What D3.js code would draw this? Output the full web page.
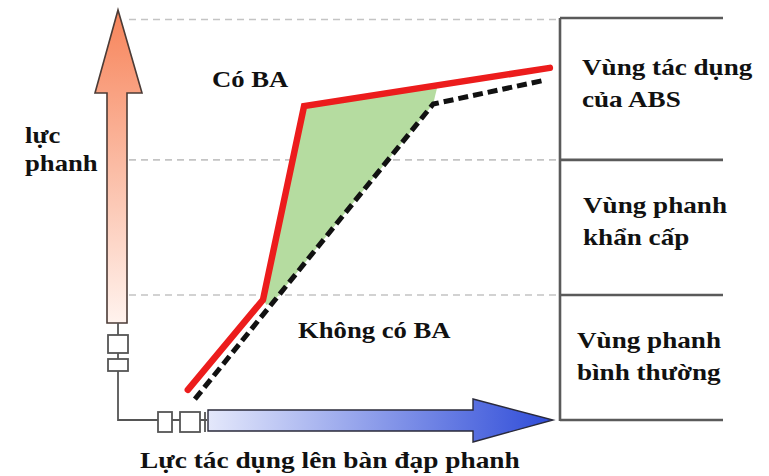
<!DOCTYPE html>
<html>
<head>
<meta charset="utf-8">
<script src="https://cdn.jsdelivr.net/npm/d3@7"></script>
<style>
  html, body { margin: 0; padding: 0; background: #ffffff; }
  svg { display: block; }
  text { font-family: "Liberation Serif", "Times New Roman", serif; font-weight: bold; fill: #111; font-size: 23px; }
</style>
</head>
<body>
<svg id="chart" width="769" height="476"></svg>
<script>
// Brake force (y, 0–100) against pedal force (x, 0–100)
const withBA    = [[15.8, 7.5], [32.8, 29.9], [42.1, 78.1], [97.7, 87.6]];
const withoutBA = [[17.4, 5.2], [71.3, 78.6], [96.8, 84.6]];
// Extra brake force gained by BA (region between the two curves)
const gainArea  = [[33.6, 28.6], [32.8, 29.9], [42.1, 78.1], [72.4, 83.6], [71.3, 78.6], [35.5, 29.9]];

// Zone boundaries on the brake-force axis
const zoneBounds = [0, 31.1, 64.7, 100];
const zoneLabels = [
  ["Vùng phanh", "bình thường"],
  ["Vùng phanh", "khẩn cấp"],
  ["Vùng tác dụng", "của ABS"]
];
const curveLabels = { on: "Có BA", off: "Không có BA" };
const yAxisLabel = ["lực", "phanh"];
const xAxisLabel = "Lực tác dụng lên bàn đạp phanh";

const svg = d3.select("#chart");

const x = d3.scaleLinear().domain([0, 100]).range([118, 560]);
const y = d3.scaleLinear().domain([0, 100]).range([420, 18]);

const defs = svg.append("defs");
const gUp = defs.append("linearGradient").attr("id", "gradUp")
  .attr("x1", 0).attr("y1", 1).attr("x2", 0).attr("y2", 0);
gUp.append("stop").attr("offset", "0%").attr("stop-color", "#fff3ee");
gUp.append("stop").attr("offset", "100%").attr("stop-color", "#f7845a");
const gRight = defs.append("linearGradient").attr("id", "gradRight")
  .attr("x1", 0).attr("y1", 0).attr("x2", 1).attr("y2", 0);
gRight.append("stop").attr("offset", "0%").attr("stop-color", "#e4e8fb");
gRight.append("stop").attr("offset", "100%").attr("stop-color", "#2f4cd8");

// Dashed grid lines at the zone boundaries
svg.append("g").selectAll("line")
  .data(zoneBounds.slice(1))
  .join("line")
  .attr("x1", 129).attr("x2", x(100))
  .attr("y1", d => y(d) + (d === 100 ? 1.5 : 0))
  .attr("y2", d => y(d) + (d === 100 ? 1.5 : 0))
  .attr("stroke", "#c4c4c4").attr("stroke-width", 1.6)
  .attr("stroke-dasharray", "7,5");

// Zone table on the right
const zoneG = svg.append("g");
zoneG.append("line")
  .attr("x1", x(100)).attr("x2", x(100))
  .attr("y1", y(100)).attr("y2", y(0) + 1)
  .attr("stroke", "#5a5a5a").attr("stroke-width", 2.6);
zoneG.selectAll("line.row")
  .data(zoneBounds)
  .join("line").attr("class", "row")
  .attr("x1", x(100)).attr("x2", 723)
  .attr("y1", d => y(d)).attr("y2", d => y(d))
  .attr("stroke", "#5a5a5a").attr("stroke-width", 2.6);

const zoneTextPos = [[577, 348], [583, 213], [582, 75]];
zoneLabels.forEach((lines, i) => {
  lines.forEach((t, j) => {
    svg.append("text")
      .attr("transform", `translate(${zoneTextPos[i][0]},${zoneTextPos[i][1] + j * 32}) scale(1.18,1)`)
      .text(t);
  });
});

// Vertical axis arrow (brake force)
const ax = x(0);
const vArrow = [[ax - 11, 323], [ax - 11, 93], [ax - 23, 93], [ax, 10], [ax + 24, 93], [ax + 9, 93], [ax + 9, 323]];
svg.append("path")
  .attr("d", d3.line()(vArrow) + "Z")
  .attr("fill", "url(#gradUp)").attr("stroke", "#4b3b36").attr("stroke-width", 1.6);

// Linkage below the vertical arrow
const link = svg.append("g").attr("stroke", "#555").attr("fill", "#fff").attr("stroke-width", 1.8);
link.append("path").attr("fill", "none")
  .attr("d", `M${ax},323 V335 M${ax},353 V359 M${ax},371 V${y(0)} H158 M172,${y(0)} H180 M200,${y(0)} H207`);
link.append("rect").attr("x", ax - 10).attr("y", 335).attr("width", 20).attr("height", 18);
link.append("rect").attr("x", ax - 10).attr("y", 359).attr("width", 20).attr("height", 12);
link.append("rect").attr("x", 158).attr("y", 412).attr("width", 14).attr("height", 20);
link.append("rect").attr("x", 180).attr("y", 412).attr("width", 20).attr("height", 20);
link.append("line").attr("x1", 205).attr("x2", 205).attr("y1", 412).attr("y2", 432);

// Horizontal axis arrow (pedal force)
const ay = y(0);
const hArrow = [[208, ay - 10], [473, ay - 10], [473, ay - 21], [553, ay], [473, ay + 22], [473, ay + 11], [208, ay + 11]];
svg.append("path")
  .attr("d", d3.line()(hArrow) + "Z")
  .attr("fill", "url(#gradRight)").attr("stroke", "#2a2a3a").attr("stroke-width", 1.4);

// Gain area between the curves
svg.append("path")
  .attr("d", d3.line().x(d => x(d[0])).y(d => y(d[1]))(gainArea) + "Z")
  .attr("fill", "#b5dca0").attr("stroke", "none");

const line = d3.line().x(d => x(d[0])).y(d => y(d[1]));

svg.append("path")
  .attr("d", line(withoutBA))
  .attr("fill", "none").attr("stroke", "#111").attr("stroke-width", 5)
  .attr("stroke-dasharray", "10,5").attr("stroke-linejoin", "round");

svg.append("path")
  .attr("d", line(withBA))
  .attr("fill", "none").attr("stroke", "#ec1c1c").attr("stroke-width", 6.5)
  .attr("stroke-linejoin", "miter").attr("stroke-linecap", "round");

// Curve labels
svg.append("text").attr("transform", "translate(212,87) scale(1.16,1)").text(curveLabels.on);
svg.append("text").attr("transform", "translate(298,338) scale(1.16,1)").text(curveLabels.off);

// Axis labels
yAxisLabel.forEach((t, j) => {
  svg.append("text").attr("transform", `translate(25,${143 + j * 28}) scale(1.16,1)`).text(t);
});
svg.append("text").attr("transform", "translate(140,468) scale(1.19,1)").text(xAxisLabel);
</script>
</body>
</html>
